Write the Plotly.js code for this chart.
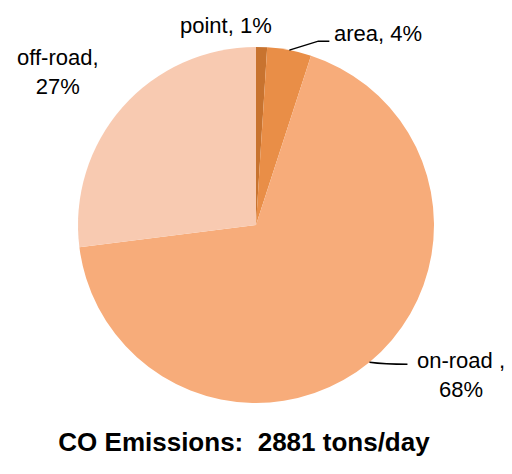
<!DOCTYPE html>
<html>
<head>
<meta charset="utf-8">
<script src="https://cdn.plot.ly/plotly-3.0.1.min.js"></script>
<style>html,body{margin:0;padding:0;background:#fff;}#chart{width:512px;height:474px;}</style>
</head>
<body>
<div id="chart"></div>
<script>
const categories = ["point", "area", "on-road", "off-road"];
const shares = [1, 4, 68, 27];
const labelTexts = ["point, 1%", "area, 4%", "on-road ,<br>68%", "off-road,<br>27%"];
const colors = ["#C8732F", "#E98E47", "#F7AC7A", "#F8CAB1"];
const titleText = "CO Emissions:  2881 tons/day";

const W = 512, H = 474;
const cx = 256, cy = 225, R = 178;
const px = x => x / W, py = y => 1 - y / H;

// slice mid-angles (clockwise from 12 o'clock)
const total = shares.reduce((a, b) => a + b, 0);
let cum = 0;
const mids = shares.map(v => { const m = (cum + v / 2) / total * 2 * Math.PI; cum += v; return m; });
const edge = i => [cx + R * Math.sin(mids[i]), cy - R * Math.cos(mids[i])];

const annotations = [];
const shapes = [];
// point label (no leader line)
{
  const [ex, ey] = edge(0);
  annotations.push({x: px(ex - 36), y: py(ey - 22), xref: 'paper', yref: 'paper', text: labelTexts[0], showarrow: false, xanchor: 'center', yanchor: 'middle'});
}
// area label with leader line
{
  const [ex, ey] = edge(1);
  const kx = ex + 29, ky = ey - 9, hx = kx + 11;
  shapes.push({type: 'path', xref: 'paper', yref: 'paper', path: `M ${px(ex)} ${py(ey)} L ${px(kx)} ${py(ky)} L ${px(hx)} ${py(ky)}`, line: {color: '#000', width: 1.5}});
  annotations.push({x: px(hx + 3), y: py(ky - 8), xref: 'paper', yref: 'paper', text: labelTexts[1], showarrow: false, xanchor: 'left', yanchor: 'middle'});
}
// on-road label with leader line
{
  const [ex, ey] = edge(2);
  const hx = ex + 38, hy = ey + 2;
  shapes.push({type: 'path', xref: 'paper', yref: 'paper', path: `M ${px(ex)} ${py(ey)} Q ${px(ex + 15)} ${py(ey + 2)} ${px(hx)} ${py(hy)}`, line: {color: '#000', width: 1.5}});
  annotations.push({x: px(hx + 54), y: py(hy + 11), xref: 'paper', yref: 'paper', text: labelTexts[2], showarrow: false, xanchor: 'center', yanchor: 'middle'});
}
// off-road label
{
  annotations.push({x: px(58), y: py(72), xref: 'paper', yref: 'paper', text: labelTexts[3], showarrow: false, xanchor: 'center', yanchor: 'middle'});
}

const trace = {
  type: 'pie',
  labels: categories,
  values: shares,
  sort: false,
  direction: 'clockwise',
  rotation: 0,
  marker: {colors: colors, line: {width: 0}},
  textinfo: 'none',
  hoverinfo: 'label+percent',
  domain: {x: [px(cx - R), px(cx + R)], y: [py(cy + R), py(cy - R)]},
  showlegend: false
};

const layout = {
  width: W, height: H,
  margin: {l: 0, r: 0, t: 0, b: 0},
  paper_bgcolor: '#fff',
  font: {family: 'Liberation Sans, Arial, sans-serif', size: 22, color: '#000'},
  title: {text: '<b>' + titleText + '</b>', x: 244 / W, xanchor: 'center', y: py(442), yanchor: 'middle', yref: 'paper', font: {size: 26, color: '#000', family: 'Liberation Sans, Arial, sans-serif'}},
  annotations: annotations,
  shapes: shapes,
  showlegend: false
};

Plotly.newPlot('chart', [trace], layout, {displayModeBar: false, staticPlot: true});
</script>
</body>
</html>
